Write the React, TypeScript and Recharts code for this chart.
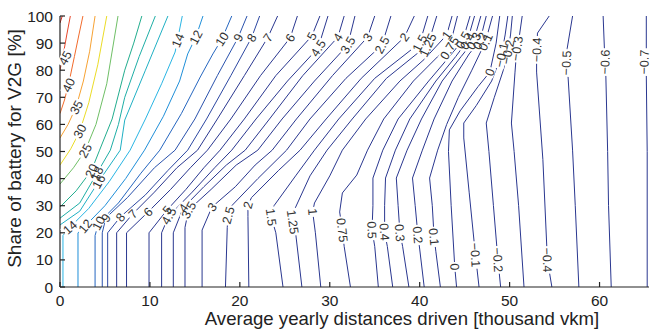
import React from 'react';
import { LineChart, Line, XAxis, YAxis, ReferenceDot } from 'recharts';

type Pt = [number, number];

// contour paths: [distance (thousand vkm), share (%)]
const c50: Pt[] = [[0, 97.4], [0.25, 100]];
const c45: Pt[] = [[0, 80], [0.4, 86.5], [0.75, 93], [1.15, 100]];
const c40: Pt[] = [[0, 64], [0.5, 69], [1, 75.5], [1.6, 85], [2.1, 93], [2.55, 100]];
const c35: Pt[] = [[0, 55], [0.9, 60], [1.8, 66.5], [2.6, 76], [3.3, 87], [3.9, 100]];
const c30: Pt[] = [[0, 45], [1.2, 51], [2.2, 57.5], [3.2, 68], [4.2, 82], [5.2, 100]];
const c25: Pt[] = [[0, 38], [1.5, 44], [2.8, 50.3], [4, 60], [5.2, 75], [6.45, 100]];
const c20: Pt[] = [[0, 29.5], [1.8, 35.5], [3.5, 43], [4.4, 50.5], [5.8, 62], [7.2, 80], [8.2, 90], [9.1, 100]];
const c18: Pt[] = [[0, 25.4], [2.2, 31], [4.1, 41.9], [5.6, 50.5], [6.5, 60], [7.2, 70], [8.8, 85], [10.6, 100]];
const c16: Pt[] = [[0, 22.9], [2.2, 28], [4.3, 38.9], [6.7, 50.5], [7.2, 61.6], [9.5, 80], [12, 100]];
const c14: Pt[] = [[0.33, 0], [0.33, 19], [1.1, 22], [3.2, 29], [5.5, 39], [7.8, 50.5], [9.5, 62], [11.3, 75], [12.8, 86.7], [13.6, 100]];
const c12: Pt[] = [[2, 0], [2, 20], [2.8, 22.5], [5, 30], [7.3, 40], [9.4, 50.5], [11.5, 63], [13.3, 76], [14.2, 86], [15.1, 92.2], [15.9, 100]];
const c10: Pt[] = [[3.9, 0], [3.9, 19], [4.3, 23.6], [6.5, 31], [9, 42], [11.1, 50.5], [13.5, 64], [15.6, 77.5], [17, 86], [18, 91.5], [19.1, 100]];
const c9: Pt[] = [[4.7, 0], [4.7, 20], [5.1, 25.5], [7.5, 33], [10.5, 44], [12.8, 50.5], [15, 62], [17.5, 78], [19.8, 92], [20.8, 100]];
const c8: Pt[] = [[5.3, 0], [5.3, 20], [6.7, 25.8], [9.5, 34], [12, 43], [14.2, 50.5], [16.3, 62], [19, 78], [21.3, 92], [22.2, 100]];
const c7: Pt[] = [[6.3, 0], [6.3, 20], [8.1, 27], [10.5, 35], [13, 44], [15.3, 50.5], [17.5, 62], [20.5, 78], [23.1, 92], [24.2, 100]];
const c6: Pt[] = [[7.4, 0], [7.4, 20], [9.8, 27.7], [12.3, 36], [14.5, 44], [16.4, 50.5], [19, 62], [22.3, 78], [25.6, 92], [26.4, 100]];
const c5: Pt[] = [[9.9, 0], [9.9, 20], [11.9, 28.4], [14, 36], [16, 44], [17.8, 50.5], [20.5, 62], [24, 78], [28, 92.6], [28.9, 100]];
const c4_5: Pt[] = [[11.3, 0], [11.3, 20], [12.1, 26.2], [14.7, 35], [17.2, 44], [19.1, 50.5], [21.8, 62], [25.3, 76], [28.7, 88.2], [29.8, 100]];
const c4: Pt[] = [[12.6, 0], [12.6, 20], [13.7, 29.2], [16, 37], [18.5, 45], [20.6, 50.5], [23.3, 62], [27, 78], [30.9, 92.2], [31.6, 100]];
const c3_5: Pt[] = [[13.9, 0], [13.9, 22], [14.3, 28.4], [16.8, 36], [19.6, 45], [22, 50.5], [24.7, 62], [28.3, 76], [32, 89.3], [32.8, 100]];
const c3: Pt[] = [[15.8, 0], [15.8, 21], [16.9, 29.5], [19.5, 37], [21.7, 45], [23.6, 50.5], [26.3, 62], [30.3, 78], [34.2, 92.2], [35, 100]];
const c2_5: Pt[] = [[18.4, 0], [18.6, 22], [18.7, 26.5], [19.1, 30], [22, 40], [25.2, 50.5], [27.8, 62], [31.8, 77], [35.8, 89.3], [36.8, 100]];
const c2: Pt[] = [[21, 0], [20.9, 26], [20.9, 30.3], [21.3, 33], [24.3, 43], [26.7, 50.5], [29.6, 62], [33.5, 77], [38.3, 92.2], [39.4, 100]];
const c1_5: Pt[] = [[24.8, 0], [24, 20], [23.5, 25.8], [23.8, 30], [26.2, 41], [28.3, 50.5], [31, 62], [35, 77], [40, 90], [40.9, 100]];
const c1_25: Pt[] = [[26.9, 0], [26.2, 20], [25.9, 24], [26, 28], [27.8, 41], [29.7, 50.5], [32.5, 62], [36.3, 77], [40.9, 89.3], [41.9, 100]];
const c1: Pt[] = [[29, 0], [28.4, 20], [28.1, 27.7], [28.3, 31], [30, 41], [31.4, 50.5], [34, 62], [37.8, 76], [40.5, 84], [43, 93], [43.6, 100]];
const c0_75: Pt[] = [[32.3, 0], [31.6, 15], [31.4, 21], [31.1, 27.7], [31.4, 34.7], [33, 41.3], [34.2, 50.5], [36, 62], [39.3, 76], [42, 85], [43.3, 88.2], [44.2, 100]];
const c0_5: Pt[] = [[35.4, 0], [35, 15], [34.7, 21], [34.8, 30], [34.8, 40.2], [35.9, 50.5], [37.6, 62], [41, 76], [43.3, 85], [44.8, 91.1], [45.6, 100]];
const c0_4: Pt[] = [[37, 0], [36.4, 15], [36.1, 20.3], [36.1, 30], [36.2, 40.2], [37.3, 50.5], [38.9, 62], [41.8, 76], [44, 85], [45.3, 90.8], [46.1, 100]];
const c0_3: Pt[] = [[38.8, 0], [38.1, 15], [37.8, 20], [37.6, 30], [37.4, 40.2], [38.6, 50.5], [40.2, 62], [42.5, 76], [44.6, 85], [46, 90.8], [46.8, 100]];
const c0_2: Pt[] = [[40.5, 0], [40, 14], [39.8, 19.2], [39.5, 30], [39.2, 40.2], [40.3, 50.5], [41.6, 62], [43.6, 76], [45.5, 86], [46.7, 90.8], [47.4, 100]];
const c0_1: Pt[] = [[42.3, 0], [41.8, 13], [41.6, 18.5], [41.4, 30], [41.1, 40.2], [42, 50.5], [43, 60], [44.3, 70], [45.8, 80], [47.3, 90.4], [48.1, 100]];
const c0: Pt[] = [[44.1, 0], [43.9, 7.4], [43.5, 30], [43.2, 50], [43.3, 58], [44.5, 65], [46.5, 74], [47.8, 79.3], [48.5, 90], [48.9, 100]];
const cm0_1: Pt[] = [[46.6, 0], [46.2, 11.8], [45.5, 35], [44.9, 55], [44.9, 60.5], [46.3, 67], [48, 76], [49.1, 85.6], [49.5, 93], [49.8, 100]];
const cm0_2: Pt[] = [[49, 0], [48.7, 10], [48.2, 30], [47.7, 50], [47.4, 60.5], [48.3, 70], [49.3, 80], [49.8, 86.7], [50.1, 93], [50.3, 100]];
const cm0_3: Pt[] = [[51.6, 0], [51, 30], [50.5, 50], [50.2, 60.5], [50.6, 79.3], [50.8, 88], [51.1, 93], [51.4, 100]];
const cm0_4: Pt[] = [[54.7, 0], [54.2, 10], [53.7, 47], [53, 79.3], [53, 87.5], [53.1, 93.7], [54.4, 100]];
const cm0_5: Pt[] = [[57.7, 0], [57.3, 30], [57, 50.5], [56.5, 77.5], [56.3, 82.7], [56.4, 88], [57, 100]];
const cm0_6: Pt[] = [[61.3, 0], [61, 30], [60.9, 50], [60.7, 78], [60.6, 83], [60.4, 100]];
const cm0_7: Pt[] = [[65.3, 0], [65.3, 50], [65.2, 78], [65.2, 100]];

const contours: [number, Pt[]][] = [
  [50, c50], [45, c45], [40, c40], [35, c35], [30, c30], [25, c25], [20, c20], [18, c18], [16, c16],
  [14, c14], [12, c12], [10, c10], [9, c9], [8, c8], [7, c7], [6, c6], [5, c5], [4.5, c4_5], [4, c4],
  [3.5, c3_5], [3, c3], [2.5, c2_5], [2, c2], [1.5, c1_5], [1.25, c1_25], [1, c1], [0.75, c0_75],
  [0.5, c0_5], [0.4, c0_4], [0.3, c0_3], [0.2, c0_2], [0.1, c0_1], [0, c0], [-0.1, cm0_1], [-0.2, cm0_2],
  [-0.3, cm0_3], [-0.4, cm0_4], [-0.5, cm0_5], [-0.6, cm0_6], [-0.7, cm0_7],
];

// inline contour labels: [level, distance, share]
const labelSpots: [number, number, number][] = [
  [45, 0.55, 84.5], [40, 0.95, 74.5], [35, 1.8, 66.3], [30, 2.2, 57.5], [25, 2.8, 50.3],
  [20, 3.5, 42.9], [18, 4.1, 41.9], [16, 4.3, 38.9],
  [14, 1.1, 22], [14, 13.1, 91], [12, 2.8, 22.5], [12, 15.1, 92.2], [10, 4.3, 23.6], [10, 18, 91.5],
  [9, 5.1, 25.5], [9, 19.8, 92], [8, 6.7, 25.8], [8, 21.3, 92], [7, 8.1, 27], [7, 23.1, 92],
  [6, 9.8, 27.7], [6, 25.6, 92], [5, 11.9, 28.4], [5, 28, 92.6], [4.5, 12.1, 26.2], [4.5, 28.7, 88.2],
  [4, 13.7, 29.2], [4, 30.9, 92.2], [3.5, 14.3, 28.4], [3.5, 32, 89.3], [3, 16.9, 29.5], [3, 34.2, 92.2],
  [2.5, 18.7, 26.5], [2.5, 35.8, 89.3], [2, 20.9, 30.3], [2, 38.3, 92.2], [1.5, 23.5, 25.8], [1.5, 40, 90],
  [1.25, 25.9, 24], [1.25, 40.9, 89.3], [1, 28.1, 27.7], [1, 43, 93], [0.75, 31.4, 21], [0.75, 43.3, 88.2],
  [0.5, 34.7, 21], [0.5, 44.8, 91.1], [0.4, 36.1, 20.3], [0.4, 45.3, 90.8], [0.3, 37.8, 20], [0.3, 46, 90.8],
  [0.2, 39.8, 19.2], [0.2, 46.7, 90.8], [0.1, 41.6, 18.5], [0.1, 47.3, 90.4], [0, 43.9, 7.4], [0, 47.8, 79.3],
  [-0.1, 46.2, 11.8], [-0.1, 49.1, 85.6], [-0.2, 48.7, 10], [-0.2, 49.8, 86.7], [-0.3, 50.8, 88],
  [-0.4, 54.2, 10], [-0.4, 53, 87.5], [-0.5, 56.3, 82.7], [-0.6, 60.6, 83], [-0.7, 64.95, 83],
];

const xTicks = [0, 10, 20, 30, 40, 50, 60];
const yTicks = [0, 10, 20, 30, 40, 50, 60, 70, 80, 90, 100];

// label rotation (deg), same order as labelSpots
const labelAngles = [
  -62, -64, -62, -62, -62, -65, -65, -62,
  -42, -68, -50, -62, -62, -58, -55, -62, -50, -58, -45, -55,
  -45, -60, -50, -62, -60, -58, -55, -58, -60, -60, -50, -58,
  -75, -62, -75, -55, 82, -62, 82, -65, 85, -55, 84, -58,
  88, -60, 86, -60, 85, -62, 85, -62, 85, -65, 88, -70,
  87, -78, 87, -80, -82, 88, -88, -88, -88, -89,
];

const levelColor: Record<string, string> = {
  '50': '#d42a1e', '45': '#e8462a', '40': '#f26b2c', '35': '#f7a233', '30': '#ebdc26',
  '25': '#6fbf66', '20': '#22ad8e', '18': '#1eaea6', '16': '#1fb0c4', '14': '#29b5e4',
  '12': '#1f8fd9', '10': '#2566c0', '9': '#2a52ad', '8': '#2c47a2',
};
const NAVY = '#2a3790';
const AX = '#222222';
const FONT = '"Liberation Sans", Arial, Helvetica, sans-serif';
const LFS = 12.5;

const fmt = (v: number) => (v < 0 ? '\u2212' + String(-v) : String(v));
const textW = (t: string) => {
  let w = 0;
  for (const ch of t) w += ch === '.' ? 0.278 : ch === '\u2212' ? 0.584 : 0.556;
  return w * LFS;
};

const BottomTick = (p: any) => (
  <g>
    <line x1={p.x} x2={p.x} y1={p.y} y2={p.y - 5} stroke={AX} strokeWidth={1.2} />
    <text x={p.x} y={p.y + 18.5} textAnchor="middle" fontSize={15.5} fill={AX} fontFamily={FONT}>
      {p.payload.value}
    </text>
  </g>
);
const TopTick = (p: any) => <line x1={p.x} x2={p.x} y1={p.y} y2={p.y + 5} stroke={AX} strokeWidth={1.2} />;
const LeftTick = (p: any) => (
  <g>
    <line x1={p.x} x2={p.x + 5} y1={p.y} y2={p.y} stroke={AX} strokeWidth={1.2} />
    <text x={p.x - 7} y={p.y} dy="0.36em" textAnchor="end" fontSize={15.5} fill={AX} fontFamily={FONT}>
      {p.payload.value}
    </text>
  </g>
);
const RightTick = (p: any) => <line x1={p.x} x2={p.x - 5} y1={p.y} y2={p.y} stroke={AX} strokeWidth={1.2} />;

const App: React.FC = () => {
  return (
    <div style={{ width: 651, height: 329 }}>
      <style>{'body{margin:0}'}</style>
      <LineChart width={651} height={329} margin={{ top: 16, right: 2, bottom: 0, left: 0 }}>
        <XAxis
          xAxisId="b"
          type="number"
          dataKey="x"
          domain={[0, 65.5]}
          allowDataOverflow
          ticks={xTicks}
          height={42}
          tickSize={0}
          tickMargin={0}
          tickLine={false}
          tick={BottomTick}
          axisLine={{ stroke: AX, strokeWidth: 1.2 }}
          label={{
            content: () => (
              <text x={402} y={325} textAnchor="middle" fontSize={18.6} fill={AX} fontFamily={FONT}>
                Average yearly distances driven [thousand vkm]
              </text>
            ),
          }}
        />
        <XAxis
          xAxisId="t"
          orientation="top"
          type="number"
          dataKey="x"
          domain={[0, 65.5]}
          allowDataOverflow
          ticks={xTicks}
          height={0}
          tickSize={0}
          tickMargin={0}
          tickLine={false}
          tick={TopTick}
          axisLine={{ stroke: AX, strokeWidth: 1.2 }}
        />
        <YAxis
          yAxisId="l"
          type="number"
          domain={[0, 100]}
          ticks={yTicks}
          width={60}
          tickSize={0}
          tickMargin={0}
          tickLine={false}
          tick={LeftTick}
          axisLine={{ stroke: AX, strokeWidth: 1.2 }}
          label={{
            content: () => (
              <text
                x={21}
                y={148.5}
                transform="rotate(-90 21 148.5)"
                textAnchor="middle"
                fontSize={19}
                fill={AX}
                fontFamily={FONT}
              >
                Share of battery for V2G [%]
              </text>
            ),
          }}
        />
        <YAxis
          yAxisId="r"
          orientation="right"
          type="number"
          domain={[0, 100]}
          ticks={yTicks}
          width={0}
          tickSize={0}
          tickMargin={0}
          tickLine={false}
          tick={RightTick}
          axisLine={{ stroke: AX, strokeWidth: 1.2 }}
        />
        {contours.map(([lvl, pts]) => (
          <Line
            key={'c' + lvl}
            xAxisId="b"
            yAxisId="l"
            data={pts.map(([x, y]) => ({ x, y }))}
            dataKey="y"
            type="linear"
            stroke={levelColor[String(lvl)] || NAVY}
            strokeWidth={1}
            dot={false}
            activeDot={false}
            isAnimationActive={false}
          />
        ))}
        {labelSpots.map(([lvl, x, y], i) => (
          <ReferenceDot
            key={'bg' + i}
            xAxisId="b"
            yAxisId="l"
            x={x}
            y={y}
            r={1}
            ifOverflow="visible"
            shape={(p: any) => {
              const w = textW(fmt(lvl)) + 3;
              const h = 10;
              return (
                <rect
                  x={p.cx - w / 2}
                  y={p.cy - h / 2}
                  width={w}
                  height={h}
                  fill="#ffffff"
                  transform={`rotate(${labelAngles[i]} ${p.cx} ${p.cy})`}
                />
              );
            }}
          />
        ))}
        {labelSpots.map(([lvl, x, y], i) => (
          <ReferenceDot
            key={'tx' + i}
            xAxisId="b"
            yAxisId="l"
            x={x}
            y={y}
            r={1}
            ifOverflow="visible"
            shape={(p: any) => (
              <text
                x={p.cx}
                y={p.cy}
                dy="0.36em"
                textAnchor="middle"
                fontSize={LFS}
                fill="#333333"
                fontFamily={FONT}
                transform={`rotate(${labelAngles[i]} ${p.cx} ${p.cy})`}
              >
                {fmt(lvl)}
              </text>
            )}
          />
        ))}
      </LineChart>
    </div>
  );
};

export default App;
